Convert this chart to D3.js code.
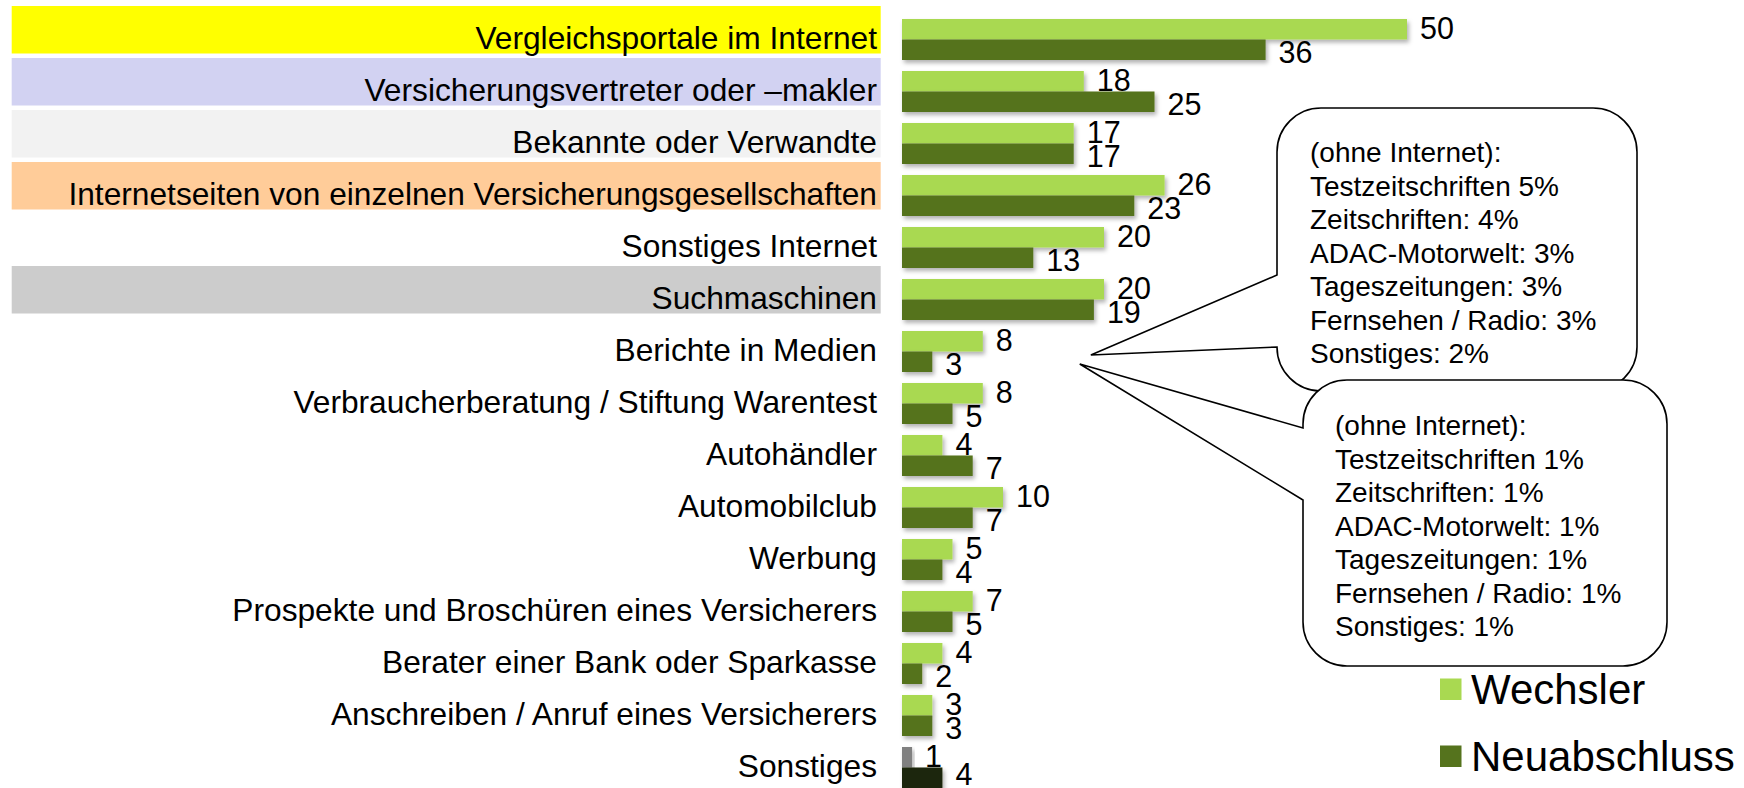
<!DOCTYPE html>
<html>
<head>
<meta charset="utf-8">
<script src="https://cdn.jsdelivr.net/npm/d3@7"></script>
<style>
  html, body { margin: 0; padding: 0; background: #fff; }
  svg { display: block; font-family: "Liberation Sans", Arial, sans-serif; }
</style>
</head>
<body>
<svg id="chart" width="1744" height="788"></svg>
<script>
// ---------- data ----------
const categories = [
  "Vergleichsportale im Internet",
  "Versicherungsvertreter oder \u2013makler",
  "Bekannte oder Verwandte",
  "Internetseiten von einzelnen Versicherungsgesellschaften",
  "Sonstiges Internet",
  "Suchmaschinen",
  "Berichte in Medien",
  "Verbraucherberatung / Stiftung Warentest",
  "Autohändler",
  "Automobilclub",
  "Werbung",
  "Prospekte und Broschüren eines Versicherers",
  "Berater einer Bank oder Sparkasse",
  "Anschreiben / Anruf eines Versicherers",
  "Sonstiges"
];
const seriesNames = ["Wechsler", "Neuabschluss"];
const wechsler     = [50, 18, 17, 26, 20, 20, 8, 8, 4, 10, 5, 7, 4, 3, 1];
const neuabschluss = [36, 25, 17, 23, 13, 19, 3, 5, 7, 7, 4, 5, 2, 3, 4];

const callout1Lines = [
  "(ohne Internet):",
  "Testzeitschriften 5%",
  "Zeitschriften: 4%",
  "ADAC-Motorwelt: 3%",
  "Tageszeitungen: 3%",
  "Fernsehen / Radio: 3%",
  "Sonstiges: 2%"
];
const callout2Lines = [
  "(ohne Internet):",
  "Testzeitschriften 1%",
  "Zeitschriften: 1%",
  "ADAC-Motorwelt: 1%",
  "Tageszeitungen: 1%",
  "Fernsehen / Radio: 1%",
  "Sonstiges: 1%"
];

// ---------- styles ----------
const seriesColors = { "Wechsler": "#A9D951", "Neuabschluss": "#55731D" };
const lastCatColors = { "Wechsler": "#808080", "Neuabschluss": "#1A260A" };
const highlight = {
  "Vergleichsportale im Internet": "#FFFF00",
  "Versicherungsvertreter oder \u2013makler": "#D2D2F2",
  "Bekannte oder Verwandte": "#F2F2F2",
  "Internetseiten von einzelnen Versicherungsgesellschaften": "#FFCC99",
  "Suchmaschinen": "#CCCCCC"
};

const rows = categories.map((c, i) => ({
  cat: c,
  values: [
    { key: "Wechsler", v: wechsler[i] },
    { key: "Neuabschluss", v: neuabschluss[i] }
  ]
}));

const svg = d3.select("#chart");
svg.append("rect").attr("width", 1744).attr("height", 788).attr("fill", "#fff");

const defs = svg.append("defs");
const f = defs.append("filter").attr("id", "shadow")
  .attr("x", "-10%").attr("y", "-30%").attr("width", "130%").attr("height", "180%");
f.append("feDropShadow").attr("dx", 2).attr("dy", 3).attr("stdDeviation", 2)
  .attr("flood-color", "#000").attr("flood-opacity", 0.3);

// ---------- scales ----------
const x = d3.scaleLinear().domain([0, 50]).range([902, 1407]);
const y = d3.scaleBand().domain(categories).range([13.5, 793.5])
  .paddingInner(11 / 52).paddingOuter(11 / 104);
const ys = d3.scaleBand().domain(seriesNames).range([0, y.bandwidth()]);

// ---------- category label highlights ----------
svg.append("g").selectAll("rect")
  .data(categories.filter(c => highlight[c]))
  .join("rect")
  .attr("x", 11.7)
  .attr("width", 880.7 - 11.7)
  .attr("y", c => y(c) + y.bandwidth() / 2 - 33.5)
  .attr("height", 47.5)
  .attr("fill", c => highlight[c]);

// ---------- category labels ----------
svg.append("g").selectAll("text")
  .data(categories)
  .join("text")
  .attr("x", 877)
  .attr("y", c => y(c) + y.bandwidth() / 2 + 9.5)
  .attr("text-anchor", "end")
  .attr("font-size", 31.7)
  .attr("fill", "#000")
  .text(c => c);

// ---------- bars ----------
const lastCat = categories[categories.length - 1];
const groups = svg.append("g").selectAll("g")
  .data(rows)
  .join("g")
  .attr("transform", d => `translate(0,${y(d.cat)})`);

groups.selectAll("rect")
  .data(d => d.values.map(v => ({ ...v, cat: d.cat })))
  .join("rect")
  .attr("x", x(0))
  .attr("y", d => ys(d.key))
  .attr("width", d => x(d.v) - x(0))
  .attr("height", ys.bandwidth())
  .attr("fill", d => d.cat === lastCat ? lastCatColors[d.key] : seriesColors[d.key])
  .attr("filter", "url(#shadow)");

groups.selectAll("text")
  .data(d => d.values.map(v => ({ ...v, cat: d.cat })))
  .join("text")
  .attr("x", d => x(d.v) + 13)
  .attr("y", d => {
    const base = ys(d.key) + ys.bandwidth() / 2 + (d.key === "Wechsler" ? 10 : 13);
    return Math.min(base, 785 - y(d.cat));
  })
  .attr("font-size", 30.5)
  .attr("fill", "#000")
  .text(d => d.v);

// ---------- callouts ----------
function calloutPath(b) {
  const { x0, y0, x1, y1, r, pA, pB, tx, ty } = b;
  return [
    `M${x0 + r},${y0}`,
    `L${x1 - r},${y0}`,
    `A${r},${r} 0 0 1 ${x1},${y0 + r}`,
    `L${x1},${y1 - r}`,
    `A${r},${r} 0 0 1 ${x1 - r},${y1}`,
    `L${x0 + r},${y1}`,
    `A${r},${r} 0 0 1 ${x0},${y1 - r}`,
    `L${x0},${pB}`,
    `L${tx},${ty}`,
    `L${x0},${pA}`,
    `L${x0},${y0 + r}`,
    `A${r},${r} 0 0 1 ${x0 + r},${y0}`,
    "Z"
  ].join(" ");
}
const anchorRow = "Berichte in Medien";
const anchorY = y(anchorRow) + y.bandwidth() / 2;

const box1 = { x0: 1277, y0: 108, x1: 1637, y1: 391, r: 44, pA: 275, pB: 347,
  tx: x(18.7), ty: anchorY + 3.5 };
const box2 = { x0: 1303, y0: 380, x1: 1667, y1: 666, r: 44, pA: 428, pB: 500,
  tx: x(17.6), ty: anchorY + 12.5 };

[[box1, callout1Lines, 1310, 162], [box2, callout2Lines, 1335, 435]].forEach(([b, lines, tx, ty0]) => {
  const g = svg.append("g");
  g.append("path").attr("d", calloutPath(b))
    .attr("fill", "#fff").attr("stroke", "#000").attr("stroke-width", 1.6)
    .attr("stroke-linejoin", "miter");
  g.selectAll("text").data(lines).join("text")
    .attr("x", tx)
    .attr("y", (d, i) => ty0 + i * 33.5)
    .attr("font-size", 28)
    .attr("fill", "#000")
    .text(d => d);
});

// ---------- legend ----------
const legend = svg.append("g").selectAll("g")
  .data(seriesNames)
  .join("g")
  .attr("transform", (d, i) => `translate(1440,${678.5 + i * 67})`);
legend.append("rect").attr("width", 21.5).attr("height", 21.5)
  .attr("fill", d => seriesColors[d]);
legend.append("text").attr("x", 31).attr("y", 25.5)
  .attr("font-size", 42).attr("fill", "#000").text(d => d);
</script>
</body>
</html>
